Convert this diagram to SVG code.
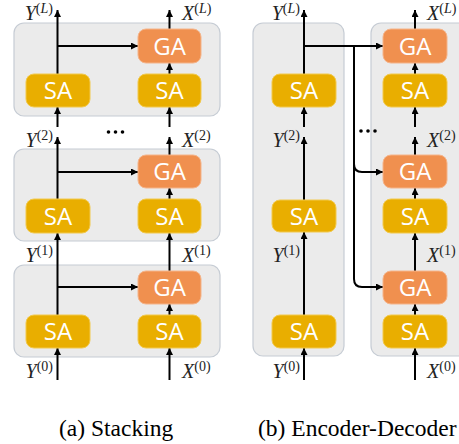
<svg xmlns="http://www.w3.org/2000/svg" width="459" height="444" viewBox="0 0 459 444">
<defs>
<marker id="ah" viewBox="0 0 10 10" refX="10" refY="5" markerWidth="8" markerHeight="7" markerUnits="userSpaceOnUse" orient="auto"><path d="M0,0 L10,5 L0,10 z" fill="#000"/></marker>
<style>
.cont{fill:#EBEBEB;stroke:#C6CCD4;stroke-width:1.2}
.sa{fill:#E9AE00;stroke:#F2C94C;stroke-width:1}
.ga{fill:#F0904F;stroke:#F5B48A;stroke-width:1}
.bt{font-family:"Open Sans","Noto Sans",sans-serif;font-size:24px;fill:#fff;text-anchor:middle}
.ln{stroke:#000;stroke-width:2;fill:none}
.ar{stroke:#000;stroke-width:2;fill:none;marker-end:url(#ah)}
.lb{font-family:'Liberation Serif','Times New Roman','DejaVu Serif',serif;font-size:20px;fill:#222}
.it{font-style:italic}
.sp{font-size:14px}
.cap{font-family:'Liberation Serif','Times New Roman','DejaVu Serif',serif;font-size:23.5px;fill:#000}
</style>
</defs>
<g id="containers">
<rect id="stack-L" class="cont" x="14" y="23" width="206" height="93" rx="10"/>
<rect id="stack-2" class="cont" x="14" y="149" width="206" height="92" rx="10"/>
<rect id="stack-1" class="cont" x="14" y="265" width="206" height="92" rx="10"/>
<rect id="encoder" class="cont" x="253" y="23" width="91" height="333" rx="10"/>
<rect id="decoder" class="cont" x="371" y="23" width="110" height="333" rx="10"/>
</g>
<g id="connectors">
<line class="ar" x1="57.5" y1="380" x2="57.5" y2="348"/>
<line class="ar" x1="57.5" y1="315" x2="57.5" y2="233"/>
<line class="ar" x1="57.5" y1="199" x2="57.5" y2="137"/>
<line class="ar" x1="57.5" y1="127" x2="57.5" y2="107"/>
<line class="ar" x1="57.5" y1="74" x2="57.5" y2="10"/>
<line class="ar" x1="57.5" y1="46" x2="138" y2="46"/>
<line class="ar" x1="57.5" y1="172" x2="138" y2="172"/>
<line class="ar" x1="57.5" y1="287" x2="138" y2="287"/>
<line class="ar" x1="169.5" y1="380" x2="169.5" y2="348"/>
<line class="ar" x1="169.5" y1="315" x2="169.5" y2="304"/>
<line class="ar" x1="169.5" y1="271" x2="169.5" y2="233"/>
<line class="ar" x1="169.5" y1="199" x2="169.5" y2="188"/>
<line class="ar" x1="169.5" y1="155" x2="169.5" y2="137"/>
<line class="ar" x1="169.5" y1="127" x2="169.5" y2="107"/>
<line class="ar" x1="169.5" y1="74" x2="169.5" y2="63"/>
<line class="ar" x1="169.5" y1="29" x2="169.5" y2="10"/>
<line class="ar" x1="304" y1="380" x2="304" y2="348"/>
<line class="ar" x1="304" y1="315" x2="304" y2="232"/>
<line class="ar" x1="304" y1="200" x2="304" y2="137"/>
<line class="ar" x1="304" y1="127" x2="304" y2="107"/>
<line class="ar" x1="304" y1="74" x2="304" y2="10"/>
<line class="ar" x1="304" y1="46" x2="383" y2="46"/>
<path class="ln" d="M354,46 L354,279 Q354,287 362,287"/>
<path class="ar" d="M362,287 L383,287"/>
<path class="ar" d="M354,164 Q354,172 362,172 L383,172"/>
<line class="ar" x1="415" y1="380" x2="415" y2="348"/>
<line class="ar" x1="415" y1="315" x2="415" y2="304"/>
<line class="ar" x1="415" y1="271" x2="415" y2="233"/>
<line class="ar" x1="415" y1="199" x2="415" y2="188"/>
<line class="ar" x1="415" y1="155" x2="415" y2="137"/>
<line class="ar" x1="415" y1="127" x2="415" y2="107"/>
<line class="ar" x1="415" y1="74" x2="415" y2="63"/>
<line class="ar" x1="415" y1="29" x2="415" y2="10"/>
</g>
<g id="a-sa-y-L"><rect class="sa" x="26" y="74" width="64" height="33" rx="8"/><text class="bt" x="58" y="99">SA</text></g>
<g id="a-sa-x-L"><rect class="sa" x="138" y="74" width="63" height="33" rx="8"/><text class="bt" x="169.5" y="99">SA</text></g>
<g id="a-ga-L"><rect class="ga" x="138" y="29" width="63" height="34" rx="8"/><text class="bt" x="169.5" y="54.5">GA</text></g>
<g id="a-sa-y-2"><rect class="sa" x="26" y="199" width="64" height="34" rx="8"/><text class="bt" x="58" y="224.5">SA</text></g>
<g id="a-sa-x-2"><rect class="sa" x="138" y="199" width="63" height="34" rx="8"/><text class="bt" x="169.5" y="224.5">SA</text></g>
<g id="a-ga-2"><rect class="ga" x="138" y="155" width="63" height="33" rx="8"/><text class="bt" x="169.5" y="180">GA</text></g>
<g id="a-sa-y-1"><rect class="sa" x="26" y="315" width="64" height="33" rx="8"/><text class="bt" x="58" y="340">SA</text></g>
<g id="a-sa-x-1"><rect class="sa" x="138" y="315" width="63" height="33" rx="8"/><text class="bt" x="169.5" y="340">SA</text></g>
<g id="a-ga-1"><rect class="ga" x="138" y="271" width="63" height="33" rx="8"/><text class="bt" x="169.5" y="296">GA</text></g>
<g id="b-enc-sa-L"><rect class="sa" x="272" y="74" width="64" height="33" rx="8"/><text class="bt" x="304" y="99">SA</text></g>
<g id="b-enc-sa-2"><rect class="sa" x="272" y="200" width="64" height="32" rx="8"/><text class="bt" x="304" y="224.5">SA</text></g>
<g id="b-enc-sa-1"><rect class="sa" x="272" y="315" width="64" height="33" rx="8"/><text class="bt" x="304" y="340">SA</text></g>
<g id="b-dec-ga-L"><rect class="ga" x="383" y="29" width="64" height="34" rx="8"/><text class="bt" x="415" y="54.5">GA</text></g>
<g id="b-dec-sa-L"><rect class="sa" x="383" y="74" width="64" height="33" rx="8"/><text class="bt" x="415" y="99">SA</text></g>
<g id="b-dec-ga-2"><rect class="ga" x="383" y="155" width="64" height="33" rx="8"/><text class="bt" x="415" y="180">GA</text></g>
<g id="b-dec-sa-2"><rect class="sa" x="383" y="199" width="64" height="34" rx="8"/><text class="bt" x="415" y="224.5">SA</text></g>
<g id="b-dec-ga-1"><rect class="ga" x="383" y="271" width="64" height="33" rx="8"/><text class="bt" x="415" y="296">GA</text></g>
<g id="b-dec-sa-1"><rect class="sa" x="383" y="315" width="64" height="33" rx="8"/><text class="bt" x="415" y="340">SA</text></g>
<g id="labels">
<text class="lb" x="53" y="20" text-anchor="end"><tspan class="it">Y</tspan><tspan class="sp" dy="-7">(<tspan class="it">L</tspan>)</tspan></text>
<text class="lb" x="182" y="20"><tspan class="it">X</tspan><tspan class="sp" dy="-7">(<tspan class="it">L</tspan>)</tspan></text>
<text class="lb" x="53" y="147" text-anchor="end"><tspan class="it">Y</tspan><tspan class="sp" dy="-7">(2)</tspan></text>
<text class="lb" x="182" y="147"><tspan class="it">X</tspan><tspan class="sp" dy="-7">(2)</tspan></text>
<text class="lb" x="53" y="262" text-anchor="end"><tspan class="it">Y</tspan><tspan class="sp" dy="-7">(1)</tspan></text>
<text class="lb" x="182" y="262"><tspan class="it">X</tspan><tspan class="sp" dy="-7">(1)</tspan></text>
<text class="lb" x="53" y="378" text-anchor="end"><tspan class="it">Y</tspan><tspan class="sp" dy="-7">(0)</tspan></text>
<text class="lb" x="182" y="378"><tspan class="it">X</tspan><tspan class="sp" dy="-7">(0)</tspan></text>
<text class="lb" x="300" y="20" text-anchor="end"><tspan class="it">Y</tspan><tspan class="sp" dy="-7">(<tspan class="it">L</tspan>)</tspan></text>
<text class="lb" x="427" y="20"><tspan class="it">X</tspan><tspan class="sp" dy="-7">(<tspan class="it">L</tspan>)</tspan></text>
<text class="lb" x="300" y="147" text-anchor="end"><tspan class="it">Y</tspan><tspan class="sp" dy="-7">(2)</tspan></text>
<text class="lb" x="427" y="147"><tspan class="it">X</tspan><tspan class="sp" dy="-7">(2)</tspan></text>
<text class="lb" x="300" y="262" text-anchor="end"><tspan class="it">Y</tspan><tspan class="sp" dy="-7">(1)</tspan></text>
<text class="lb" x="427" y="262"><tspan class="it">X</tspan><tspan class="sp" dy="-7">(1)</tspan></text>
<text class="lb" x="300" y="378" text-anchor="end"><tspan class="it">Y</tspan><tspan class="sp" dy="-7">(0)</tspan></text>
<text class="lb" x="427" y="378"><tspan class="it">X</tspan><tspan class="sp" dy="-7">(0)</tspan></text>
</g>
<g id="dots" fill="#000">
<circle cx="108.5" cy="132" r="1.8"/><circle cx="115.5" cy="132" r="1.8"/><circle cx="122.5" cy="132" r="1.8"/>
<circle cx="361" cy="131" r="1.8"/><circle cx="368" cy="131" r="1.8"/><circle cx="375" cy="131" r="1.8"/>
</g>
<g id="captions">
<text class="cap" x="59" y="436">(a) Stacking</text>
<text class="cap" x="258" y="436">(b) Encoder-Decoder</text>
</g>
</svg>
